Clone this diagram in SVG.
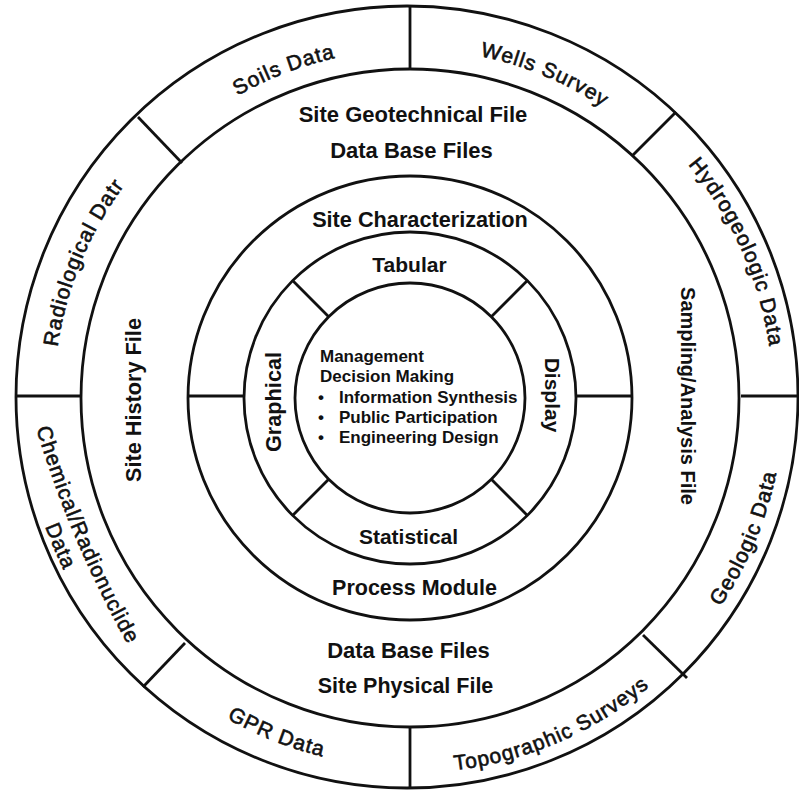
<svg xmlns="http://www.w3.org/2000/svg" width="799" height="791" viewBox="0 0 799 791">
<style>
.ring{fill:none;stroke:#111;stroke-width:2.8}
.div{stroke:#111;stroke-width:2.8;fill:none}
.lbl{font-family:"Liberation Sans",Arial,Helvetica,sans-serif;font-weight:bold;fill:#111;text-anchor:middle}
.ctr{font-family:"Liberation Sans",Arial,Helvetica,sans-serif;font-weight:bold;fill:#111;font-size:17px}
.out{font-family:"Liberation Sans",Arial,Helvetica,sans-serif;font-size:21px;letter-spacing:1px;fill:#111;stroke:#111;stroke-width:0.6;text-anchor:middle}
</style>
<defs>
<path id="pSoils" d="M81.0,284.7 A348,348 0 0 1 578.7,93.6"/>
<path id="pWells" d="M249.4,88.2 A349,349 0 0 1 743.0,293.6"/>
<path id="pHydro" d="M510.0,49.1 A363,363 0 0 1 736.3,557.1"/>
<path id="pGeo" d="M521.2,755.1 A374,374 0 0 0 742.3,226.5"/>
<path id="pTopo" d="M241.5,733.0 A375,375 0 0 0 769.2,505.8"/>
<path id="pGPR" d="M59.7,513.9 A369,369 0 0 0 584.9,722.9"/>
<path id="pChem" d="M10.2,322.0 A1069,1069 0 0 0 186.8,737.9"/>
<path id="pChem2" d="M15.1,441.3 A1093,1093 0 0 0 104.3,651.6"/>
<path id="pRadio" d="M94.2,562.4 A356,356 0 0 1 302.9,58.5"/>
</defs>
<rect width="799" height="791" fill="#fff"/>
<g id="rings">
<circle class="ring" cx="407" cy="397" r="391"/>
<circle class="ring" cx="410" cy="398" r="329"/>
<circle class="ring" cx="410" cy="398" r="222"/>
<circle class="ring" cx="410" cy="398" r="166"/>
<circle class="ring" cx="410" cy="398" r="115"/>
</g>
<g id="connectors">
<line class="div" x1="410" y1="6" x2="410" y2="70"/>
<line class="div" x1="138" y1="117" x2="182" y2="163"/>
<line class="div" x1="676" y1="112" x2="633" y2="155"/>
<line class="div" x1="15" y1="396" x2="81" y2="396"/>
<line class="div" x1="741" y1="396" x2="799" y2="396"/>
<line class="div" x1="143" y1="687" x2="185" y2="643"/>
<line class="div" x1="643" y1="635" x2="687" y2="678"/>
<line class="div" x1="410" y1="727" x2="410" y2="788"/>
<line class="div" x1="187" y1="396" x2="244" y2="396"/>
<line class="div" x1="576" y1="396" x2="633" y2="396"/>
<line class="div" x1="292.6" y1="280.6" x2="328.7" y2="316.7"/>
<line class="div" x1="527.4" y1="280.6" x2="491.3" y2="316.7"/>
<line class="div" x1="292.6" y1="515.4" x2="328.7" y2="479.3"/>
<line class="div" x1="527.4" y1="515.4" x2="491.3" y2="479.3"/>
</g>
<g id="outer-ring">
<text class="out"><textPath href="#pSoils" startOffset="50%">Soils Data</textPath></text>
<text class="out"><textPath href="#pWells" startOffset="50%">Wells Survey</textPath></text>
<text class="out"><textPath href="#pHydro" startOffset="50%">Hydrogeologic Data</textPath></text>
<text class="out"><textPath href="#pGeo" startOffset="50%">Geologic Data</textPath></text>
<text class="out"><textPath href="#pTopo" startOffset="50%">Topographic Surveys</textPath></text>
<text class="out"><textPath href="#pGPR" startOffset="50%">GPR Data</textPath></text>
<text class="out"><textPath href="#pChem" startOffset="50%">Chemical/Radionuclide</textPath></text>
<text class="out"><textPath href="#pChem2" startOffset="50%">Data</textPath></text>
<text class="out"><textPath href="#pRadio" startOffset="50%">Radiological Datr</textPath></text>
</g>
<g id="data-base-ring">
<text class="lbl" x="413" y="122" font-size="22">Site Geotechnical File</text>
<text class="lbl" x="411.5" y="158" font-size="22">Data Base Files</text>
<text class="lbl" font-size="21.7" transform="translate(140.5,400) rotate(-90)">Site History File</text>
<text class="lbl" font-size="20" transform="translate(680.5,396) rotate(90)">Sampling/Analysis File</text>
<text class="lbl" x="408.5" y="658" font-size="22">Data Base Files</text>
<text class="lbl" x="405.5" y="693" font-size="21.5">Site Physical File</text>
</g>
<g id="process-ring">
<text class="lbl" x="420" y="227" font-size="21.7">Site Characterization</text>
<text class="lbl" x="414.5" y="595" font-size="21.5">Process Module</text>
</g>
<g id="display-ring">
<text class="lbl" x="409.5" y="272" font-size="21">Tabular</text>
<text class="lbl" x="408.5" y="544" font-size="21">Statistical</text>
<text class="lbl" font-size="21.7" transform="translate(281,402) rotate(-90)">Graphical</text>
<text class="lbl" font-size="21" transform="translate(545,395) rotate(90)">Display</text>
</g>
<g id="core">
<text class="ctr" x="320" y="362">Management</text>
<text class="ctr" x="320" y="382">Decision Making</text>
<text class="ctr" x="318" y="403">•</text>
<text class="ctr" x="339" y="403">Information Synthesis</text>
<text class="ctr" x="318" y="423">•</text>
<text class="ctr" x="339" y="423">Public Participation</text>
<text class="ctr" x="318" y="443">•</text>
<text class="ctr" x="339" y="443">Engineering Design</text>
</g>
</svg>
